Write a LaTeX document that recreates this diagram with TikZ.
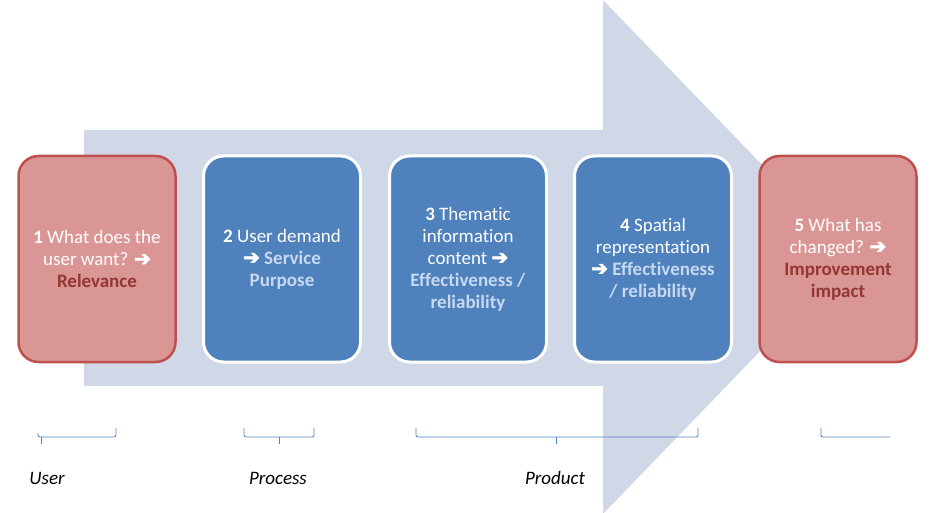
\documentclass[tikz,border=0pt]{standalone}
\usepackage{fontspec}
\setmainfont[Ligatures={NoCommon,NoContextual}, RawFeature={-liga;-clig}]{Carlito}
\newfontfamily\symfont[BoldFont={DejaVu Sans}, BoldFeatures={FakeBold=3}]{DejaVu Sans}
\usepackage{xcolor}

\definecolor{shaftgray}{HTML}{D0D8E8}
\definecolor{pinkfill}{HTML}{D99694}
\definecolor{pinkline}{HTML}{C0504D}
\definecolor{darkred}{HTML}{943634}
\definecolor{bluefill}{HTML}{4F81BD}
\definecolor{lightblue}{HTML}{C6D9F1}

\newcommand{\arr}{{\symfont\bfseries\fontsize{20}{22}\selectfont ➔}}

\tikzset{
    stagebox/.style={rounded corners=20pt, minimum width=157pt, minimum height=206pt,
        align=center, text=white, font=\fontsize{19}{22}\selectfont, inner sep=2pt},
    redbox/.style={stagebox, fill=pinkfill, draw=pinkline, line width=2.5pt},
    bluebox/.style={stagebox, fill=bluefill, draw=white, line width=3pt},
    bracket/.style={draw=bluefill, line width=0.8pt, rounded corners=2pt},
    grouplabel/.style={font=\fontsize{19}{22}\selectfont\itshape}
}

\begin{document}
\begin{tikzpicture}[x=1pt, y=-1pt]
    \useasboundingbox (0,0) rectangle (937,513);

    % Big arrow
    \fill[shaftgray] (84,130) -- (603,130) -- (603,0) -- (851,257)
        -- (603,514) -- (603,386) -- (84,386) -- cycle;

    % Stages
    \node[redbox] (user) at (97,259)
        {\textbf{1} What does the\\ user want? \arr\\ \textcolor{darkred}{\textbf{Relevance}}};
    \node[bluebox] (demand) at (282,259)
        {\textbf{2} User demand\\ \arr\ \textcolor{lightblue}{\textbf{Service}}\\ \textcolor{lightblue}{\textbf{Purpose}}};
    \node[bluebox] (thematic) at (468,259)
        {\textbf{3} Thematic\\ information\\ content \arr\\ \textcolor{lightblue}{\textbf{Effectiveness /}}\\ \textcolor{lightblue}{\textbf{reliability}}};
    \node[bluebox] (spatial) at (653,259)
        {\textbf{4} Spatial\\ representation\\ \arr\ \textcolor{lightblue}{\textbf{Effectiveness}}\\ \textcolor{lightblue}{\textbf{/ reliability}}};
    \node[redbox] (change) at (838,259)
        {\textbf{5} What has\\ changed? \arr\\ \textcolor{darkred}{\textbf{Improvement}}\\ \textcolor{darkred}{\textbf{impact}}};

    % Brackets
    \draw[bracket] (38,433) -- (38,437) -- (116,437) -- (116,428);
    \draw[bracket] (41,437) -- (41,444);
    \draw[bracket] (244,428) -- (244,437) -- (314,437) -- (314,428);
    \draw[bracket] (279,437) -- (279,444);
    \draw[bracket] (416,428) -- (416,437) -- (698,437) -- (698,428);
    \draw[bracket] (556,437) -- (556,444);
    \draw[bracket] (821,428) -- (821,437) -- (890,437);

    % Labels
    \node[grouplabel] (userlbl) at (47,478) {User};
    \node[grouplabel] (processlbl) at (278,478) {Process};
    \node[grouplabel] (productlbl) at (555,478) {Product};
\end{tikzpicture}
\end{document}
